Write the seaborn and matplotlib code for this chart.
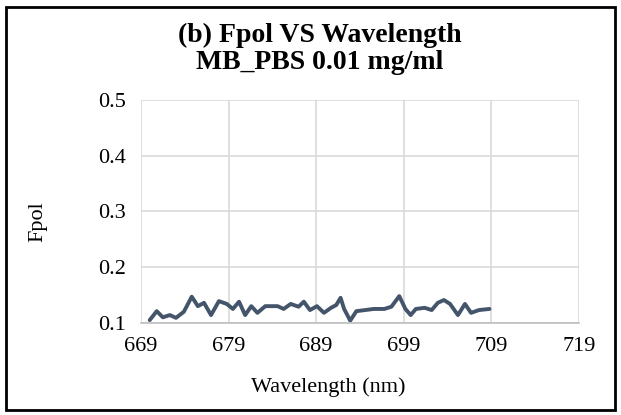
import numpy as np
import pandas as pd
import matplotlib.pyplot as plt
import seaborn as sns
from matplotlib.patches import Rectangle

# values
wavelength = [670.0, 670.8, 671.5, 672.3, 673.0, 673.9, 674.8, 675.5, 676.2,
              677.0, 677.9, 678.8, 679.5, 680.2, 680.9, 681.6, 682.3, 683.2,
              683.8, 684.6, 685.3, 686.1, 687.0, 687.6, 688.3, 689.1, 689.9,
              690.7, 691.3, 691.8, 692.2, 692.9, 693.6, 694.6, 695.6, 696.8,
              697.6, 698.5, 699.2, 699.8, 700.4, 701.4, 702.2, 702.9, 703.6,
              704.3, 705.2, 706.0, 706.7, 707.6, 708.8]
fpol = [0.105, 0.121, 0.110, 0.114, 0.109, 0.120, 0.147, 0.130, 0.136,
        0.114, 0.139, 0.134, 0.125, 0.138, 0.114, 0.130, 0.118, 0.130,
        0.130, 0.130, 0.125, 0.134, 0.129, 0.138, 0.123, 0.130, 0.118,
        0.127, 0.132, 0.145, 0.125, 0.104, 0.121, 0.123, 0.125, 0.125,
        0.129, 0.148, 0.125, 0.114, 0.125, 0.127, 0.123, 0.136, 0.141,
        0.134, 0.114, 0.134, 0.118, 0.123, 0.125]

xticks = [669, 679, 689, 699, 709, 719]
yticks = [0.1, 0.2, 0.3, 0.4, 0.5]

df = pd.DataFrame({'Wavelength': wavelength, 'Fpol': fpol})

sns.set_style('white')
plt.rcParams['font.family'] = ['Liberation Serif', 'DejaVu Serif']
plt.rcParams['text.color'] = 'black'
plt.rcParams['axes.labelcolor'] = 'black'
plt.rcParams['xtick.color'] = 'black'
plt.rcParams['ytick.color'] = 'black'

fig = plt.figure(figsize=(6.21, 4.15), dpi=100)
ax = fig.add_axes([0.227, 0.222, 0.705, 0.537])

sns.lineplot(data=df, x='Wavelength', y='Fpol', ax=ax, color='#44546A',
             linewidth=2.8, solid_joinstyle='round', solid_capstyle='round')

ax.set_xlim(669, 719)
ax.set_ylim(0.1, 0.5)
ax.set_xticks(xticks)
ax.set_yticks(yticks)
ax.set_xticklabels([str(t) for t in xticks], fontsize=16)
ax.set_yticklabels(['%.1f' % t for t in yticks], fontsize=16)
ax.tick_params(axis='x', length=0, pad=10)
ax.tick_params(axis='y', length=0, pad=11)
ax.grid(True, color='#D9D9D9', linewidth=1.2)
ax.set_axisbelow(True)
for s in ['top', 'right', 'left']:
    ax.spines[s].set_visible(False)
ax.spines['bottom'].set_color('#BFBFBF')
ax.spines['bottom'].set_linewidth(1.2)

ax.set_xlabel('Wavelength (nm)', fontsize=16, va='center')
ax.xaxis.set_label_coords(0.427, -0.287)
ax.set_ylabel('Fpol', fontsize=16, va='center')
ax.yaxis.set_label_coords(-0.235, 0.453)
fig.text(0.515, 0.915, '(b) Fpol VS Wavelength', ha='center', va='center',
         fontsize=20, fontweight='bold')
fig.text(0.515, 0.85, 'MB_PBS 0.01 mg/ml', ha='center', va='center',
         fontsize=20, fontweight='bold')

fig.patches.append(Rectangle((0.009, 0.012), 0.982, 0.97, transform=fig.transFigure,
                             fill=False, edgecolor='black', linewidth=2))

plt.savefig('out.png', dpi=100)
plt.close()
